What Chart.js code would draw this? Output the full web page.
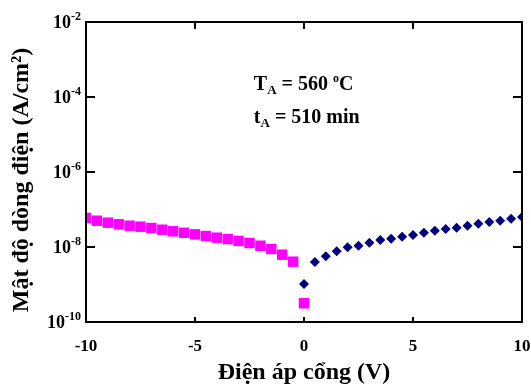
<!DOCTYPE html>
<html>
<head>
<meta charset="utf-8">
<title>Mat do dong dien</title>
<script src="https://cdn.jsdelivr.net/npm/chart.js@4.4.0/dist/chart.umd.min.js"></script>
<style>
  body { margin: 0; background: #fff; }
  #grafico { display: block; }
</style>
</head>
<body>
<canvas id="grafico" width="531" height="391"></canvas>
<script>
// datos
var voltNeg = [-10, -9.5, -9, -8.5, -8, -7.5, -7, -6.5, -6, -5.5, -5, -4.5, -4, -3.5, -3, -2.5, -2, -1.5, -1, -0.5, 0];
var corrNeg = [5.93e-8, 5.02e-8, 4.45e-8, 4.03e-8, 3.70e-8, 3.48e-8, 3.21e-8, 2.89e-8, 2.62e-8, 2.40e-8, 2.18e-8,
               1.96e-8, 1.77e-8, 1.63e-8, 1.45e-8, 1.28e-8, 1.08e-8, 8.85e-9, 6.24e-9, 4.06e-9, 3.16e-10];
var voltPos = [0, 0.5, 1, 1.5, 2, 2.5, 3, 3.5, 4, 4.5, 5, 5.5, 6, 6.5, 7, 7.5, 8, 8.5, 9, 9.5, 10];
var corrPos = [1.03e-9, 3.98e-9, 5.65e-9, 7.67e-9, 9.82e-9, 1.08e-8, 1.30e-8, 1.54e-8, 1.66e-8, 1.88e-8, 2.09e-8,
               2.40e-8, 2.72e-8, 3.02e-8, 3.27e-8, 3.70e-8, 4.18e-8, 4.65e-8, 5.02e-8, 5.69e-8, 6.31e-8];
var xTicks = [-10, -5, 0, 5, 10];
var yTicks = [1e-10, 1e-8, 1e-6, 1e-4, 1e-2];
var yExp = ['-10', '-8', '-6', '-4', '-2'];
var yTitulo = 'Mật độ dòng điện (A/cm²)';

var serif = "'Liberation Serif', 'Times New Roman', serif";

function puntos(xs, ys) {
  var p = [];
  for (var i = 0; i < xs.length; i++) p.push({x: xs[i], y: ys[i]});
  return p;
}

// marco, marcas hacia dentro, etiquetas del eje y y texto
var marco = {
  id: 'marco',
  afterDraw: function(chart) {
    var ctx = chart.ctx, a = chart.chartArea;
    var sx = chart.scales.x, sy = chart.scales.y;
    ctx.save();
    ctx.strokeStyle = '#000';
    ctx.lineWidth = 2;
    ctx.strokeRect(a.left, a.top, a.right - a.left, a.bottom - a.top);
    ctx.beginPath();
    for (var i = 1; i < xTicks.length - 1; i++) {
      var px = Math.round(sx.getPixelForValue(xTicks[i]));
      ctx.moveTo(px, a.top); ctx.lineTo(px, a.top + 7);
      ctx.moveTo(px, a.bottom); ctx.lineTo(px, a.bottom - 5);
    }
    for (var j = 1; j < yTicks.length - 1; j++) {
      var py = Math.round(sy.getPixelForValue(yTicks[j]));
      ctx.moveTo(a.left, py); ctx.lineTo(a.left + 9, py);
      ctx.moveTo(a.right, py); ctx.lineTo(a.right - 9, py);
    }
    ctx.stroke();

    // etiquetas 10^n
    ctx.fillStyle = '#000';
    ctx.textBaseline = 'alphabetic';
    for (var k = 0; k < yTicks.length; k++) {
      var y = sy.getPixelForValue(yTicks[k]);
      ctx.font = 'bold 12px ' + serif;
      var wExp = ctx.measureText(yExp[k]).width;
      var xr = a.left - 5;
      ctx.textAlign = 'right';
      ctx.fillText(yExp[k], xr, y - 2);
      ctx.font = 'bold 18px ' + serif;
      ctx.fillText('10', xr - wExp, y + 6);
    }

    // titulo del eje y
    ctx.save();
    ctx.translate(22, 180);
    ctx.rotate(-Math.PI / 2);
    ctx.textAlign = 'center';
    ctx.textBaseline = 'middle';
    ctx.font = 'bold 24px ' + serif;
    ctx.fillText(yTitulo, 0, 0);
    ctx.restore();

    // anotacion
    var ax = sx.getPixelForValue(-2.3);
    ctx.textAlign = 'left';
    function linea(partes, x, y) {
      for (var i = 0; i < partes.length; i++) {
        var p = partes[i];
        ctx.font = 'bold ' + p[1] + 'px ' + serif;
        ctx.fillText(p[0], x, y + p[2]);
        x += ctx.measureText(p[0]).width;
      }
    }
    linea([['T', 20, 0], ['A', 13, 4], [' = 560 ', 20, 0], ['o', 12, -8], ['C', 20, 0]], ax, 90);
    linea([['t', 20, 0], ['A', 13, 4], [' = 510 min', 20, 0]], ax, 123);
    ctx.restore();
  }
};

var graph = new Chart(document.getElementById('grafico'), {
  type: 'scatter',
  data: {
    datasets: [
      {
        label: 'V < 0',
        data: puntos(voltNeg, corrNeg),
        pointStyle: 'rect',
        pointRadius: 7.4,
        backgroundColor: '#ff00ff',
        borderColor: '#ff00ff',
        borderWidth: 0
      },
      {
        label: 'V > 0',
        data: puntos(voltPos, corrPos),
        pointStyle: 'rectRot',
        pointRadius: 5,
        backgroundColor: '#00007f',
        borderColor: '#00007f',
        borderWidth: 0
      }
    ]
  },
  options: {
    responsive: false,
    animation: false,
    devicePixelRatio: 1,
    layout: { padding: { top: 22, right: 9, left: 0, bottom: 0 } },
    plugins: { legend: { display: false }, tooltip: { enabled: false } },
    scales: {
      x: {
        type: 'linear',
        min: -10, max: 10,
        afterBuildTicks: function(s) { s.ticks = xTicks.map(function(v) { return {value: v}; }); },
        afterFit: function(s) { s.height = 69; s.paddingLeft = 0; s.paddingRight = 0; },
        grid: { display: false, drawTicks: false },
        border: { display: false },
        ticks: { color: '#000', padding: 14, font: { family: serif, size: 17, weight: 'bold' } },
        title: {
          display: true, text: 'Điện áp cổng (V)', color: '#000',
          font: { family: serif, size: 24, weight: 'bold' }, padding: { top: 5 }
        }
      },
      y: {
        type: 'logarithmic',
        min: 1e-10, max: 1e-2,
        afterBuildTicks: function(s) { s.ticks = yTicks.map(function(v) { return {value: v}; }); },
        afterFit: function(s) { s.width = 86; s.paddingTop = 0; s.paddingBottom = 0; },
        grid: { display: false, drawTicks: false },
        border: { display: false },
        ticks: { display: false },
        title: { display: false }
      }
    }
  },
  plugins: [marco]
});
</script>
</body>
</html>
